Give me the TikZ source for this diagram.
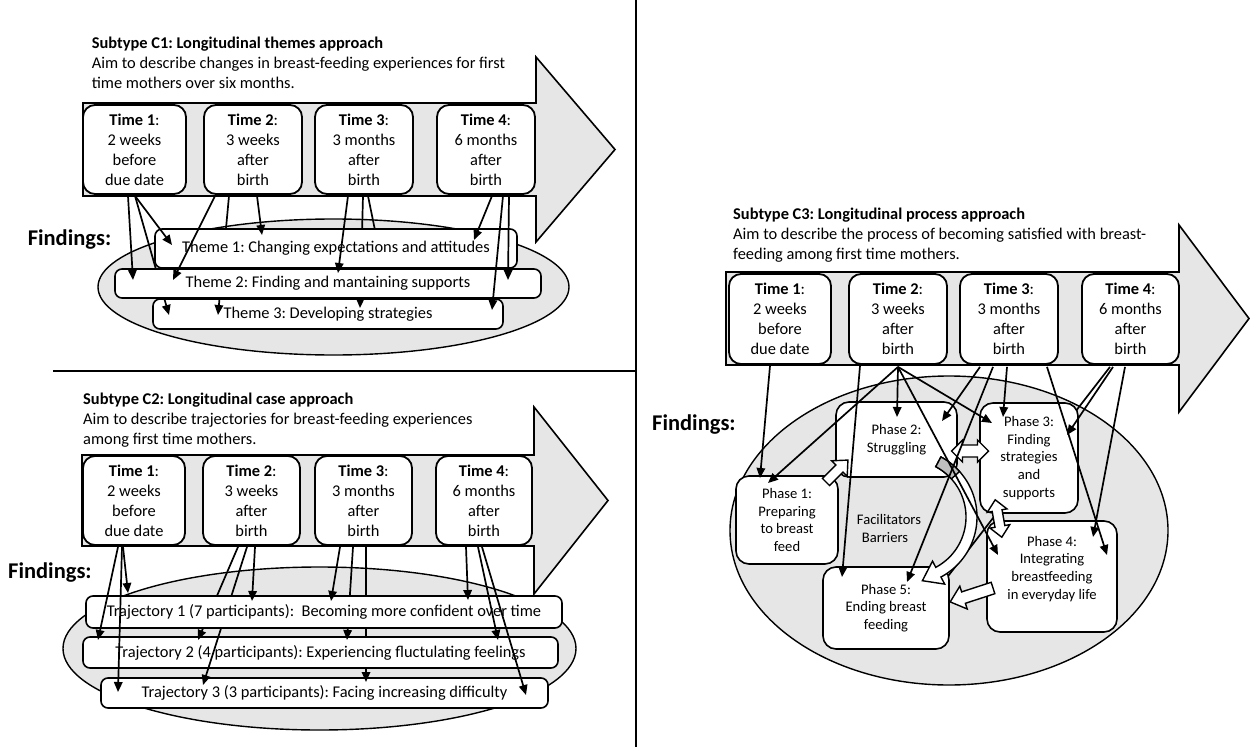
\documentclass[tikz,border=0pt]{standalone}
\usepackage{fontspec}
\setmainfont{Carlito}
\frenchspacing
\usetikzlibrary{arrows.meta,calc}
\pgfdeclarelayer{l1}\pgfdeclarelayer{l2}\pgfdeclarelayer{l3}\pgfdeclarelayer{l4}\pgfdeclarelayer{l5}
\pgfsetlayers{l1,l2,l3,l4,l5,main}
\definecolor{bgc}{RGB}{230,230,230}
\definecolor{shadec}{RGB}{190,190,190}
\newcommand\fntA{\fontsize{16.4}{20}\selectfont}
\newcommand\fntP{\fontsize{14.6}{17.7}\selectfont}
\newcommand\fntF{\fontsize{22.5}{26}\selectfont\bfseries}
\newcommand\blkarrow[7]{\begin{scope}[shift={(#1,#2)},rotate=#3]\draw[blk] (0,-#5) -- ({#4-#6},-#5) -- ({#4-#6},-#7) -- (#4,0) -- ({#4-#6},#7) -- ({#4-#6},#5) -- (0,#5) -- cycle;\end{scope}}
\newcommand\dblarrow[7]{\begin{scope}[shift={(#1,#2)},rotate=#3]\draw[blk] ({-#4/2},0) -- ({-#4/2+#6},-#7) -- ({-#4/2+#6},-#5) -- ({#4/2-#6},-#5) -- ({#4/2-#6},-#7) -- ({#4/2},0) -- ({#4/2-#6},#7) -- ({#4/2-#6},#5) -- ({-#4/2+#6},#5) -- ({-#4/2+#6},#7) -- cycle;\end{scope}}
\tikzset{
 tbox/.style={draw, fill=white, rounded corners=12pt, align=center, inner sep=0pt, font=\fntA, line width=1.8pt},
 thbox/.style={draw, fill=white, rounded corners=7pt, inner sep=0pt, font=\fntA, line width=1.6pt},
 pbox/.style={draw, fill=white, rounded corners=13pt, align=center, inner sep=0pt, font=\fntP, line width=1.6pt},
 conn/.style={line width=1.7pt, -{Triangle[length=10pt,width=8.5pt]}},
 bigarr/.style={draw, fill=bgc, line join=miter, line width=1.6pt},
 findell/.style={draw, fill=bgc, line width=1.4pt},
 blk/.style={draw, fill=white, line width=1.4pt, line join=miter},
 ttl/.style={anchor=base west, inner sep=0pt, font=\fntA\bfseries},
 aimtxt/.style={anchor=base west, inner sep=0pt, font=\fntA},
 fnd/.style={anchor=west, inner sep=0pt, font=\fntF},
 ptxt/.style={inner sep=0pt, font=\fntP},
 divider/.style={line width=1.6pt},
}
\begin{document}
\begin{tikzpicture}[x=1pt,y=-1pt,line width=1.6pt]
\useasboundingbox (0,0) rectangle (1250,749);
% dividers
\draw[divider] (636,0) -- (636,747);
\draw[divider] (53,371) -- (636,371);

%%%%%%%%%%%%%%%% C1
\node[ttl] (c1ttl) at (91,49) {Subtype C1: Longitudinal themes approach};
\node[aimtxt] (c1aim1) at (91,69) {Aim to describe changes in breast-feeding experiences for first};
\node[aimtxt] (c1aim2) at (91,89) {time mothers over six months.};
\draw[bigarr] (83,103) -- (536,103) -- (536,57) -- (615,149.5) -- (536,242) -- (536,196) -- (83,196) -- cycle;
\node[tbox,minimum width=103pt,minimum height=89pt] (c1t1) at (134.5,149.5) {\textbf{Time 1}:\\2 weeks\\before\\due date};
\node[tbox,minimum width=98pt,minimum height=89pt] (c1t2) at (253,149.5) {\textbf{Time 2}:\\3 weeks\\after\\birth};
\node[tbox,minimum width=98pt,minimum height=89pt] (c1t3) at (364,149.5) {\textbf{Time 3}:\\3 months\\after\\birth};
\node[tbox,minimum width=98pt,minimum height=89pt] (c1t4) at (486,149.5) {\textbf{Time 4}:\\6 months\\after\\birth};
\node[fnd] (c1fnd) at (27,240) {Findings:};
\begin{pgfonlayer}{l1}
\draw[findell] (333.5,287) ellipse [x radius=235.5, y radius=68];
\end{pgfonlayer}
\begin{pgfonlayer}{l2}
\node[thbox,minimum width=350pt,minimum height=30pt] (th3) at (328,314) {Theme 3: Developing strategies};
\end{pgfonlayer}
\begin{pgfonlayer}{l4}
\node[thbox,minimum width=362pt,minimum height=39pt] (th1) at (336,248.5) {Theme 1: Changing expectations and attitudes};
\node[thbox,minimum width=426pt,minimum height=29pt] (th2) at (328,283.5) {Theme 2: Finding and mantaining supports};
\end{pgfonlayer}
\begin{pgfonlayer}{l3}
\draw[conn] ($(c1t1.south)+(0.5,1)$) -- ($(th3.center)+(-159,1)$);
\draw[conn] ($(c1t2.south)+(-24,1)$) -- ($(th3.center)+(-110,1)$);
\draw[conn] ($(c1t3.south)+(-1,1)$) -- ($(th3.center)+(32,-6)$);
\draw[conn] ($(c1t3.south)+(4,1)$) -- ($(th1.center)+(42,-3.5)$);
\end{pgfonlayer}
\draw[conn] ($(c1t1.south)+(-6.5,1)$) -- ($(th2.center)+(-195,-3.5)$);
\draw[conn] ($(c1t1.south)+(0.5,1)$) -- ($(th1.center)+(-164,-3.5)$);
\draw[conn] ($(c1t2.south)+(-38,1)$) -- ($(th2.center)+(-155,-3.5)$);
\draw[conn] ($(c1t2.south)+(4,1)$) -- ($(th1.center)+(-74,-13.5)$);
\draw[conn] ($(c1t3.south)+(-16,1)$) -- ($(th2.center)+(10,-10.5)$);
\draw[conn] ($(c1t4.south)+(6,1)$) -- ($(th1.center)+(138,-8.5)$);
\draw[conn] ($(c1t4.south)+(17,1)$) -- ($(th3.center)+(164,-4)$);
\draw[conn] ($(c1t4.south)+(23,1)$) -- ($(th2.center)+(180,-3.5)$);

%%%%%%%%%%%%%%%% C2
\node[ttl] (c2ttl) at (83,404) {Subtype C2: Longitudinal case approach};
\node[aimtxt] (c2aim1) at (83,424) {Aim to describe trajectories for breast-feeding experiences};
\node[aimtxt] (c2aim2) at (83,444) {among first time mothers.};
\draw[bigarr] (82,455) -- (534,455) -- (534,407) -- (608,500.5) -- (534,594) -- (534,546) -- (82,546) -- cycle;
\node[tbox,minimum width=102pt,minimum height=89pt] (c2t1) at (134,500.5) {\textbf{Time 1}:\\2 weeks\\before\\due date};
\node[tbox,minimum width=97pt,minimum height=89pt] (c2t2) at (251.5,500.5) {\textbf{Time 2}:\\3 weeks\\after\\birth};
\node[tbox,minimum width=97pt,minimum height=89pt] (c2t3) at (363.5,500.5) {\textbf{Time 3}:\\3 months\\after\\birth};
\node[tbox,minimum width=96pt,minimum height=89pt] (c2t4) at (484,500.5) {\textbf{Time 4}:\\6 months\\after\\birth};
\node[fnd] (c2fnd) at (8,573) {Findings:};
\begin{pgfonlayer}{l1}
\draw[findell] (319.5,648.5) ellipse [x radius=256.5, y radius=81.5];
\end{pgfonlayer}
\begin{pgfonlayer}{l2}
\node[thbox,minimum width=447pt,minimum height=30pt] (tr3) at (324.5,693) {Trajectory 3 (3 participants): Facing increasing difficulty};
\end{pgfonlayer}
\begin{pgfonlayer}{l4}
\node[thbox,minimum width=475pt,minimum height=31pt] (tr2) at (320.5,652.5) {Trajectory 2 (4 participants): Experiencing fluctulating feelings};
\end{pgfonlayer}
\node[thbox,minimum width=476pt,minimum height=32pt] (tr1) at (324,612) {Trajectory 1 (7 participants):~~Becoming more confident over time};
\begin{pgfonlayer}{l3}
\draw[conn] ($(c2t3.south)+(2.5,1)$) -- ($(tr3.center)+(41.5,-11)$);
\end{pgfonlayer}
\begin{pgfonlayer}{l5}
\draw[conn] ($(c2t2.south)+(-13.5,1)$) -- ($(tr2.center)+(-122.5,-12.5)$);
\draw[conn] ($(c2t2.south)+(-4.5,1)$) -- ($(tr3.center)+(-121.5,-8)$);
\draw[conn] ($(c2t3.south)+(-10.5,1)$) -- ($(tr2.center)+(26.5,-12.5)$);
\end{pgfonlayer}
\draw[conn] ($(c2t1.south)+(-16,1)$) -- ($(tr2.center)+(-222.5,-12.5)$);
\draw[conn] ($(c2t1.south)+(-12,1)$) -- ($(tr3.center)+(-206.5,-1)$);
\draw[conn] ($(c2t1.south)+(-11,1)$) -- ($(tr1.center)+(-196,-19)$);
\draw[conn] ($(c2t2.south)+(3.5,1)$) -- ($(tr1.center)+(-72,-11)$);
\draw[conn] ($(c2t3.south)+(-23.5,1)$) -- ($(tr1.center)+(7,-11)$);
\draw[conn] ($(c2t4.south)+(-18,1)$) -- ($(tr1.center)+(144,-12)$);
\draw[conn] ($(c2t4.south)+(-6,1)$) -- ($(tr2.center)+(177.5,-12.5)$);
\draw[conn] ($(c2t4.south)+(-2,1)$) -- ($(tr3.center)+(201.5,2)$);

%%%%%%%%%%%%%%%% C3
\node[ttl] (c3ttl) at (733,219) {Subtype C3: Longitudinal process approach};
\node[aimtxt] (c3aim1) at (733,239) {Aim to describe the process of becoming satisfied with breast-};
\node[aimtxt] (c3aim2) at (733,259) {feeding among first time mothers.};
\draw[bigarr] (726,272) -- (1179,272) -- (1179,225) -- (1249,318.5) -- (1179,412) -- (1179,365) -- (726,365) -- cycle;
\node[tbox,minimum width=102pt,minimum height=90pt] (c3t1) at (780,319) {\textbf{Time 1}:\\2 weeks\\before\\due date};
\node[tbox,minimum width=98pt,minimum height=90pt] (c3t2) at (898,319) {\textbf{Time 2}:\\3 weeks\\after\\birth};
\node[tbox,minimum width=98pt,minimum height=90pt] (c3t3) at (1009,319) {\textbf{Time 3}:\\3 months\\after\\birth};
\node[tbox,minimum width=97pt,minimum height=90pt] (c3t4) at (1130.5,319) {\textbf{Time 4}:\\6 months\\after\\birth};
\node[fnd] (c3fnd) at (652,425) {Findings:};
\begin{pgfonlayer}{l1}
\draw[findell] (949,530.5) ellipse [x radius=219, y radius=154.5];
\end{pgfonlayer}
\begin{pgfonlayer}{l4}
\node[pbox,minimum width=121pt,minimum height=75pt] (p2) at (896.5,439.5) {Phase 2:\\Struggling};
\node[pbox,minimum width=102pt,minimum height=88pt] (p1) at (787,520) {Phase 1:\\Preparing\\to breast\\feed};
\node[pbox,minimum width=98pt,minimum height=110pt] (p3) at (1029,458) {Phase 3:\\Finding\\strategies\\and\\supports};
\node[pbox,minimum width=130pt,minimum height=111pt] (p4) at (1052,576.5) {Phase 4:\\Integrating\\breastfeeding\\in everyday life\\\mbox{}};
\node[pbox,minimum width=126pt,minimum height=82pt] (p5) at (886,608) {Phase 5:\\Ending breast\\feeding};
\end{pgfonlayer}
\begin{pgfonlayer}{l3}
\draw[conn] ($(c3t4.south)+(-20.5,2)$) -- ($(p5.center)+(49,-15)$);
\end{pgfonlayer}
\begin{pgfonlayer}{l5}
\blkarrow{826}{482}{45}{31}{5}{12}{11}
\dblarrow{970}{451}{0}{37}{6}{11}{11}
\dblarrow{998.5}{518.5}{100}{38}{5}{11}{10}
\blkarrow{993}{588}{198}{45}{6}{14}{12}
\draw[blk] plot[domain=-62:62, samples=50, variable=\t] ({909+68*cos(\t)},{517+68*sin(\t)}) -- (944.7,584.1) -- (922.4,580.7) -- (932.5,561.1) -- plot[domain=62:-62, samples=50, variable=\t] ({909+57*cos(\t)},{517+57*sin(\t)}) -- cycle;
\draw[blk, fill=shadec] plot[domain=-62:-42, samples=12, variable=\t] ({909+68*cos(\t)},{517+68*sin(\t)}) -- plot[domain=-42:-62, samples=12, variable=\t] ({909+57*cos(\t)},{517+57*sin(\t)}) -- cycle;
\end{pgfonlayer}
\node[ptxt] (fac) at (889,519) {Facilitators};
\node[ptxt] (bar) at (885,538) {Barriers};
\draw[conn] ($(c3t1.south)+(-10,1)$) -- ($(p1.center)+(-27,-42)$);
\draw[conn] ($(c3t2.south)+(-38,1)$) -- ($(p5.center)+(-44,-31)$);
\draw[conn] ($(c3t2.south)+(0,2)$) -- ($(p1.center)+(-19,-37)$);
\draw[conn] ($(c3t2.south)+(0,2)$) -- ($(p2.center)+(0.5,-22.5)$);
\draw[conn] ($(c3t2.south)+(0,2)$) -- ($(p3.center)+(-37,-35)$);
\draw[conn] ($(c3t2.south)+(0,2)$) -- ($(p4.center)+(-54,-21.5)$);
\draw[conn] ($(c3t3.south)+(-29,2)$) -- ($(p2.center)+(45.5,-18.5)$);
\draw[conn] ($(c3t3.south)+(-16,2)$) -- ($(p5.center)+(21,-26)$);
\draw[conn] ($(c3t3.south)+(-2,2)$) -- ($(p3.center)+(-26,-41)$);
\draw[conn] ($(c3t3.south)+(38,2)$) -- ($(p4.center)+(55,-21.5)$);
\draw[conn] ($(c3t4.south)+(-17.5,2)$) -- ($(p3.center)+(38,-23)$);
\draw[conn] ($(c3t4.south)+(-5.5,2)$) -- ($(p4.center)+(41,-39.5)$);
\end{tikzpicture}
\end{document}
